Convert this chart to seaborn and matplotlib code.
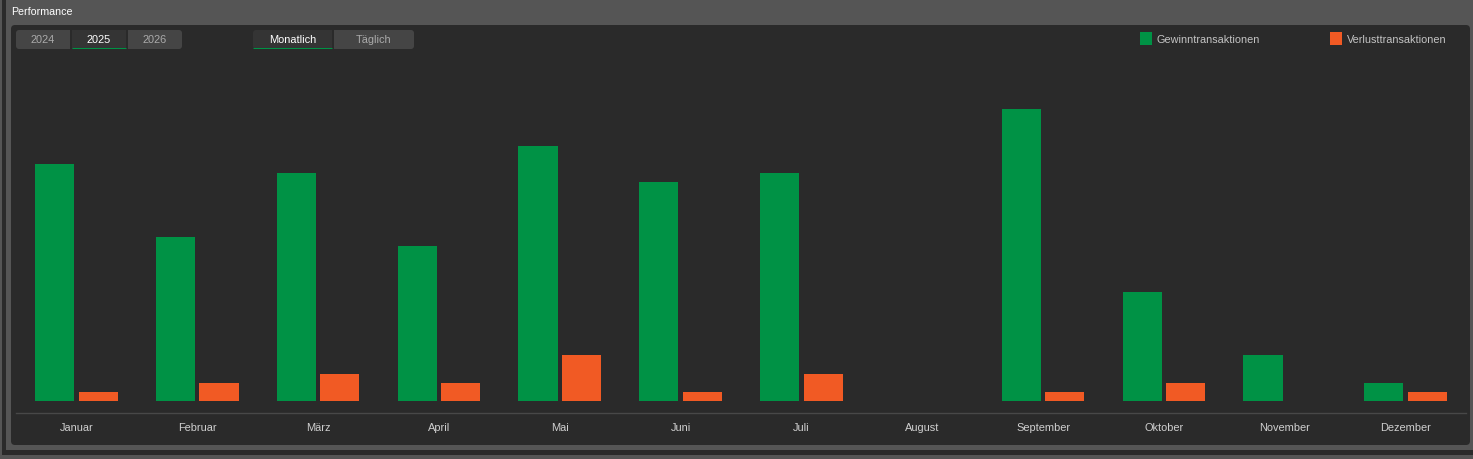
"""
plot.py
Monatliche Performance 2025: Gewinn- und Verlusttransaktionen als Balken im dunklen Panel.
"""

import matplotlib
matplotlib.use("Agg")
import matplotlib.pyplot as plt
import pandas as pd
import seaborn as sns
from matplotlib.patches import FancyBboxPatch, Rectangle

MONATE = ["Januar", "Februar", "März", "April", "Mai", "Juni", "Juli",
          "August", "September", "Oktober", "November", "Dezember"]
GEWINN = [26, 18, 25, 17, 28, 24, 25, 0, 32, 12, 5, 2]
VERLUST = [1, 2, 3, 2, 5, 1, 3, 0, 1, 2, 0, 1]
JAHRE = ["2024", "2025", "2026"]
ANSICHTEN = ["Monatlich", "Täglich"]

GRUEN = "#009245"
ORANGE = "#f15a24"
GRAU = "#555555"
PANEL = "#2a2a2a"
W, H = 1473, 460


def tab_gruppe(bg, tabs, aktiv, y0=30, y1=49):
    # tabs: (label, x0, x1), nur die aeusseren Ecken sind rund
    for i, (label, x0, x1) in enumerate(tabs):
        farbe = "#343434" if label == aktiv else "#454545"
        bg.add_patch(FancyBboxPatch((x0 + 3, y0 + 3), x1 - x0 - 6, y1 - y0 - 6,
                                    boxstyle="round,pad=3,rounding_size=3", fc=farbe, ec="none"))
        if i > 0:
            bg.add_patch(Rectangle((x0, y0), 6, y1 - y0, fc=farbe, ec="none"))
        if i < len(tabs) - 1:
            bg.add_patch(Rectangle((x1 - 6, y0), 6, y1 - y0, fc=farbe, ec="none"))
        if label == aktiv:
            bg.plot([x0, x1], [47.5, 47.5], color=GRUEN, lw=0.75, solid_capstyle="butt")
        bg.text((x0 + x1) / 2, 39, label, ha="center", va="center", fontsize=7.9,
                color="#ffffff" if label == aktiv else "#aaaaaa")


sns.set_style("dark")
plt.rcParams["font.family"] = ["Liberation Sans", "DejaVu Sans"]

fig = plt.figure(figsize=(W / 100, H / 100), dpi=100, facecolor=GRAU)

# Hintergrund in Pixelkoordinaten
bg = fig.add_axes([0, 0, 1, 1], zorder=0)
bg.set_xlim(0, W)
bg.set_ylim(H - 1, -1)
bg.axis("off")
bg.add_patch(Rectangle((2, -1), 4, 451, fc=PANEL, ec="none"))
bg.add_patch(Rectangle((2, 450), W, 5, fc=PANEL, ec="none"))
bg.add_patch(FancyBboxPatch((15, 29), 1451, 412, boxstyle="round,pad=4,rounding_size=4",
                            fc=PANEL, ec="none"))
bg.text(11, 11, "Performance", ha="left", va="center", fontsize=7.7, color="#ffffff")
tab_gruppe(bg, [(JAHRE[0], 16, 70), (JAHRE[1], 72, 126), (JAHRE[2], 128, 182)], "2025")
tab_gruppe(bg, [(ANSICHTEN[0], 253, 332), (ANSICHTEN[1], 334, 414)], "Monatlich")

df = pd.DataFrame({
    "Monat": MONATE * 2,
    "Anzahl": GEWINN + VERLUST,
    "Typ": ["Gewinntransaktionen"] * 12 + ["Verlusttransaktionen"] * 12,
})

# Achse: 16..1466 px breit, Grundlinie bei y=413
ax = fig.add_axes([16 / W, 1 - 413.5 / H, 1450 / W, 353.5 / H], zorder=1)
ax.patch.set_alpha(0)
sns.barplot(data=df, x="Monat", y="Anzahl", hue="Typ", order=MONATE,
            palette=[GRUEN, ORANGE], width=0.72, gap=0.1, saturation=1,
            linewidth=0, ax=ax)
ax.set_xlim(-0.5, 11.5)
ax.set_ylim(-1.26, 37.48)
ax.set_xlabel("")
ax.set_ylabel("")
ax.set_yticks([])
ax.grid(False)
ax.tick_params(axis="x", length=0, pad=7.2, labelsize=7.9, labelcolor="#cfcfcf")
for name in ["top", "left", "right"]:
    ax.spines[name].set_visible(False)
ax.spines["bottom"].set_color("#484848")
ax.spines["bottom"].set_linewidth(1)

sns.move_legend(ax, "upper left", bbox_to_anchor=(1140 / W, 1 - 33 / H),
                bbox_transform=fig.transFigure, ncol=2, frameon=False, title=None,
                borderpad=0, borderaxespad=0, handlelength=1.1, handleheight=1.45,
                handletextpad=0.45, columnspacing=6.4, fontsize=7.85, labelcolor="#c4c4c4")

fig.savefig("out.png", dpi=100, facecolor=fig.get_facecolor())
